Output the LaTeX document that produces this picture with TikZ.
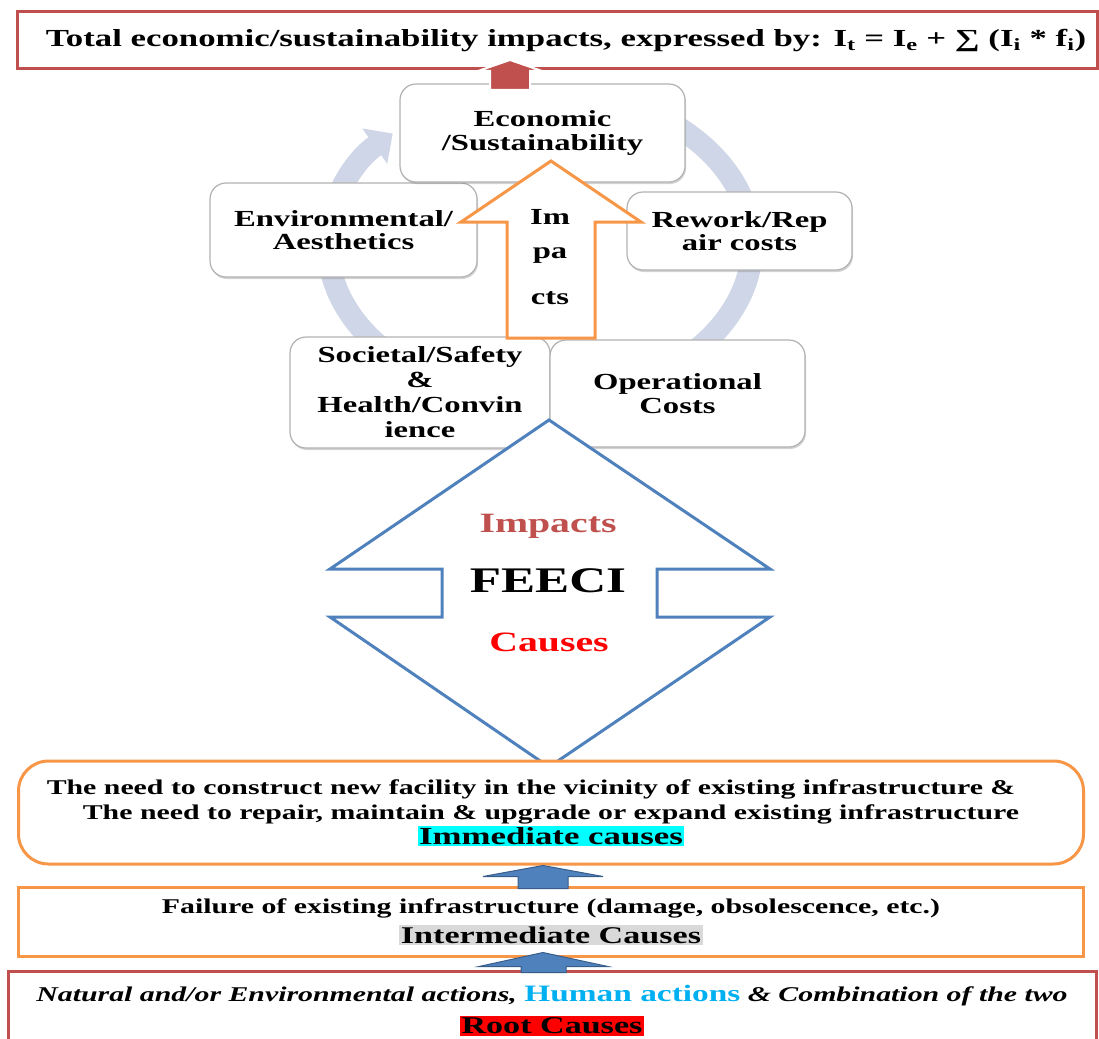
\documentclass[tikz,border=0pt]{standalone}
\usepackage{fontspec}
\setmainfont[FakeStretch=1.42]{Liberation Serif}
\usetikzlibrary{arrows.meta,shadows,positioning}
\definecolor{redb}{RGB}{192,80,77}
\definecolor{orng}{RGB}{247,150,70}
\definecolor{blueA}{RGB}{79,129,189}
\definecolor{blueD}{RGB}{56,93,138}
\definecolor{ringc}{RGB}{207,214,231}
\definecolor{cyanbg}{RGB}{0,255,255}
\definecolor{graybg}{RGB}{217,217,217}
\definecolor{humanc}{RGB}{0,176,240}
\definecolor{redbg}{RGB}{255,0,0}
\setlength{\fboxsep}{1.5pt}

\tikzset{
  cyclebox/.style={draw=black!30, line width=1.2pt, fill=white, rounded corners=16pt,
    align=center, inner sep=0pt, font=\fontsize{23}{23.5}\selectfont\bfseries,
    drop shadow={shadow xshift=1pt, shadow yshift=-2pt, opacity=.35}},
  causebox/.style={draw=orng, line width=3pt, fill=white, align=center, inner sep=0pt,
    font=\fontsize{21}{25}\selectfont\bfseries},
  blockarrow/.style={fill=blueA, draw=blueD, line width=1pt},
  bigtext/.style={anchor=base, font=\fontsize{28}{30}\selectfont\bfseries},
}

\begin{document}
\begin{tikzpicture}[x=1pt, y=-1pt]
    \useasboundingbox (0,0) rectangle (1099,1038);

    % cycle arrow behind the boxes
    \draw[ringc, line width=22pt, -{Triangle[width=42pt,length=22pt]}]
        (540,245) ++(-60:212 and 155) arc[start angle=-60, end angle=226, x radius=212, y radius=155];

    % total
    \node[draw=redb, line width=3pt, minimum width=1080, minimum height=57, inner sep=0pt,
          font=\fontsize{24.5}{27}\selectfont\bfseries] (total) at (557,40.5)
        {\hspace*{18pt}Total economic/sustainability impacts, expressed by: I\textsubscript{t} = I\textsubscript{e} + ∑ (I\textsubscript{i} * f\textsubscript{i})};

    % impact boxes
    \node[cyclebox, minimum width=267, minimum height=94] (env) at (343.5,230) {Environmental/\\Aesthetics};
    \node[cyclebox, minimum width=225, minimum height=78] (rework) at (739.5,231) {Rework/Rep\\air costs};
    \node[cyclebox, minimum width=260, minimum height=111, font=\fontsize{23}{25}\selectfont\bfseries] (soc) at (420,392.5)
        {Societal/Safety\\\&\\Health/Convin\\ience};
    \node[cyclebox, minimum width=255, minimum height=107, font=\fontsize{23}{24}\selectfont\bfseries] (oper) at (677.5,393.5)
        {Operational\\Costs};
    \node[cyclebox, minimum width=285, minimum height=98] (econ) at (542.5,133) {Economic\\/Sustainability};

    % Impacts arrow
    \coordinate (imptip) at (551,161);
    \draw[orng, line width=3pt, fill=white, line join=miter] (imptip) -- ++(90,61) -- ++(-46,0) -- ++(0,116)
        -- ++(-88,0) -- ++(0,-116) -- ++(-46,0) -- cycle;
    \node[align=center, font=\fontsize{23}{34}\selectfont\bfseries] (impv) at (550,257) {Im\\pa\\[12pt]cts};

    % arrow to total
    \coordinate (redtip) at (510,60);
    \draw[fill=redb, draw=white, line width=2pt] (redtip) -- ++(32,11) -- ++(-12,0) -- ++(0,19)
        -- ++(-40,0) -- ++(0,-19) -- ++(-12,0) -- cycle;

    % FEECI double arrow
    \coordinate (fctop) at (549,420);
    \coordinate (fcbot) at (549,767);
    \draw[blueA, line width=3pt, fill=white] (fctop) -- (770,569) -- (657,569) -- (657,617) -- (770,617)
        -- (fcbot) -- (330,617) -- (442,617) -- (442,569) -- (330,569) -- cycle;
    \node[bigtext, text=redb] (feimp) at (548,532) {Impacts};
    \node[anchor=base, font=\fontsize{36}{38}\selectfont\bfseries] (feeci) at (548,592) {FEECI};
    \node[bigtext, text=redbg] (fecau) at (549,651) {Causes};

    % causes
    \node[causebox, rounded corners=30pt, minimum width=1065, minimum height=103] (imm) at (551,812.5)
        {The need to construct new facility in the vicinity of existing infrastructure \&\hspace*{40pt}\\
         The need to repair, maintain \& upgrade or expand existing infrastructure\\
         \colorbox{cyanbg}{\fontsize{24.5}{25}\selectfont Immediate causes}};
    \node[causebox, minimum width=1065, minimum height=69, font=\fontsize{21}{30}\selectfont\bfseries] (inter) at (551,921.5)
        {Failure of existing infrastructure (damage, obsolescence, etc.)\\
         \colorbox{graybg}{\fontsize{24}{25}\selectfont Intermediate Causes}};
    \node[draw=redb, line width=3pt, fill=white, minimum width=1088, minimum height=79, inner sep=0pt, align=center,
          font=\fontsize{21}{32}\selectfont\bfseries] (root) at (552,1010.5)
        {\textit{Natural and/or Environmental actions,} \textcolor{humanc}{\fontsize{23.5}{25}\selectfont Human actions}
         \textit{\& Combination of the two}\\
         \colorbox{redbg}{\fontsize{24}{25}\selectfont Root Causes}};

    % arrows between the causes
    \draw[blockarrow] ([xshift=-8pt]imm.south) -- ++(60,11) -- ++(-35,0) -- ++(0,12)
        -- ++(-50,0) -- ++(0,-12) -- ++(-35,0) -- cycle;
    \draw[blockarrow] ([xshift=-8pt,yshift=5pt]inter.south) -- ++(65,14) -- ++(-42,0) -- ++(0,6)
        -- ++(-45,0) -- ++(0,-6) -- ++(-42,0) -- cycle;
\end{tikzpicture}
\end{document}
